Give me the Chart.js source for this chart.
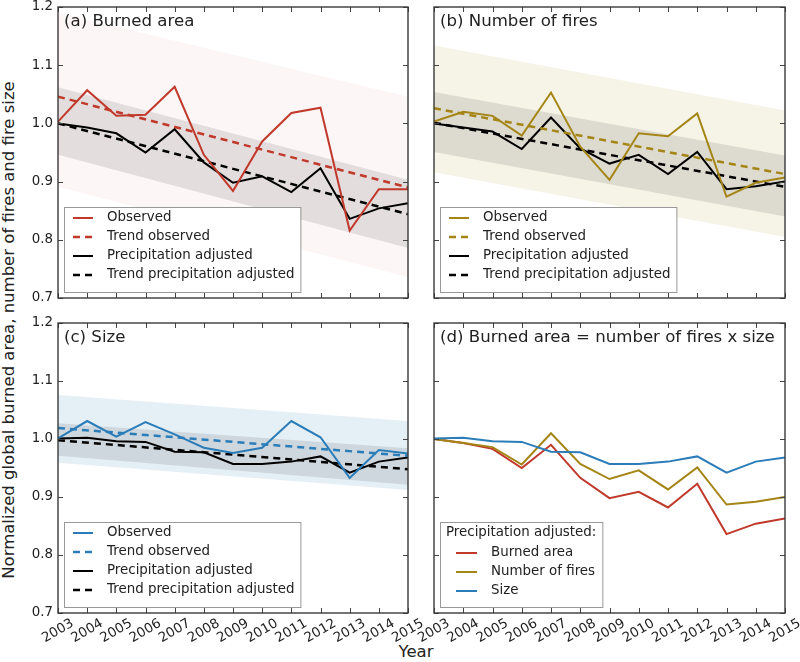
<!DOCTYPE html>
<html>
<head>
<meta charset="utf-8">
<script src="https://cdn.jsdelivr.net/npm/chart.js@4.4.0/dist/chart.umd.min.js"></script>
<style>
  body { margin: 0; background: #fff; }
  #wrap { position: relative; width: 800px; height: 662px; overflow: hidden; font-family: "DejaVu Sans", sans-serif; color: #222; }
  #wrap canvas { position: absolute; left: 0; top: 0; }
  #ylab { position: absolute; left: -291px; top: 320px; width: 600px; height: 20px; line-height: 20px;
          text-align: center; font-size: 16.5px; transform: rotate(-90deg); }
  #xlab { position: absolute; left: 366px; top: 642px; width: 100px; height: 20px; line-height: 20px;
          text-align: center; font-size: 16.5px; }
</style>
</head>
<body>
<div id="wrap">
  <div id="ylab">Normalized global burned area, number of fires and fire size</div>
  <div id="xlab">Year</div>
</div>
<script>
// values
const years = [2003, 2004, 2005, 2006, 2007, 2008, 2009, 2010, 2011, 2012, 2013, 2014, 2015];
const trendYears = [2003, 2015];
const yTicks = [0.7, 0.8, 0.9, 1.0, 1.1, 1.2];

const burnedObserved = [1.003, 1.057, 1.013, 1.015, 1.063, 0.946, 0.884, 0.969, 1.018, 1.027, 0.816, 0.887, 0.887];
const burnedAdjusted = [1.000, 0.993, 0.983, 0.950, 0.990, 0.933, 0.898, 0.909, 0.882, 0.923, 0.836, 0.854, 0.863];
const burnedTrendObserved = [1.046, 0.890];
const burnedTrendAdjusted = [1.000, 0.844];
const burnedBandObsHigh = [1.190, 1.046];
const burnedBandObsLow = [0.891, 0.736];
const burnedBandAdjHigh = [1.062, 0.903];
const burnedBandAdjLow = [0.946, 0.786];

const firesObserved = [1.003, 1.020, 1.013, 0.979, 1.053, 0.960, 0.903, 0.983, 0.978, 1.017, 0.874, 0.898, 0.907];
const firesAdjusted = [1.000, 0.993, 0.986, 0.956, 1.010, 0.957, 0.931, 0.946, 0.913, 0.951, 0.887, 0.892, 0.900];
const firesTrendObserved = [1.026, 0.913];
const firesTrendAdjusted = [1.001, 0.891];
const firesBandObsHigh = [1.134, 1.022];
const firesBandObsLow = [0.916, 0.805];
const firesBandAdjHigh = [1.054, 0.945];
const firesBandAdjLow = [0.951, 0.840];

const sizeObserved = [1.001, 1.031, 1.004, 1.029, 1.008, 0.985, 0.976, 0.985, 1.031, 1.003, 0.933, 0.981, 0.975];
const sizeAdjusted = [1.001, 1.002, 0.996, 0.995, 0.978, 0.977, 0.957, 0.957, 0.961, 0.970, 0.942, 0.961, 0.968];
const sizeTrendObserved = [1.019, 0.971];
const sizeTrendAdjusted = [0.998, 0.948];
const sizeBandObsHigh = [1.076, 1.031];
const sizeBandObsLow = [0.959, 0.912];
const sizeBandAdjHigh = [1.027, 0.984];
const sizeBandAdjLow = [0.971, 0.921];

const RED = 'rgb(192,57,43)';
const OLIVE = 'rgb(164,133,22)';
const BLUE = 'rgb(43,125,185)';
const FONT = '"DejaVu Sans", sans-serif';

function pts(xs, ys) {
  return xs.map((x, i) => ({ x: x, y: ys[i] }));
}

function line(label, xs, ys, color, dashed, order) {
  return {
    label: label,
    data: pts(xs, ys),
    borderColor: color,
    borderWidth: dashed ? 2.5 : 2,
    borderDash: dashed ? [7, 5] : [],
    pointRadius: 0,
    fill: false,
    order: order
  };
}

// two datasets, the first one filled down to the second
function band(high, low, color, order) {
  return [
    { data: pts(trendYears, high), borderWidth: 0, pointRadius: 0, fill: '+1', backgroundColor: color, order: order },
    { data: pts(trendYears, low), borderWidth: 0, pointRadius: 0, fill: false, order: order }
  ];
}

function trendSet(color, obs, adj, tObs, tAdj, bObsHi, bObsLo, bAdjHi, bAdjLo, bandColor) {
  return [
    line('Observed', years, obs, color, false, 0),
    line('Trend observed', trendYears, tObs, color, true, 1),
    line('Precipitation adjusted', years, adj, '#000', false, 2),
    line('Trend precipitation adjusted', trendYears, tAdj, '#000', true, 3),
    ...band(bAdjHi, bAdjLo, 'rgba(0,0,0,0.1)', 10),
    ...band(bObsHi, bObsLo, bandColor, 11)
  ];
}

const boxLegend = {
  id: 'boxLegend',
  afterDatasetsDraw(chart, args, opts) {
    const { ctx, chartArea } = chart;
    const items = chart.data.datasets.filter(d => d.label);
    ctx.save();
    ctx.font = '13.4px ' + FONT;
    let textW = 0;
    items.forEach(d => { textW = Math.max(textW, ctx.measureText(d.label).width); });
    if (opts.title) textW = Math.max(textW, ctx.measureText(opts.title).width - opts.textX + 6);
    const rows = items.length + (opts.title ? 1 : 0);
    const h = 14 + (rows - 1) * 19 + 11 + 3;
    const w = opts.textX + textW + 6;
    const x0 = chartArea.left + 6;
    const y0 = chartArea.bottom - 6 - h;
    ctx.fillStyle = '#fff';
    ctx.fillRect(x0, y0, w, h);
    ctx.strokeStyle = '#999';
    ctx.lineWidth = 1;
    ctx.strokeRect(x0 + 0.5, y0 + 0.5, w, h);
    ctx.textBaseline = 'middle';
    ctx.fillStyle = '#222';
    let y = y0 + 11;
    if (opts.title) {
      ctx.fillText(opts.title, x0 + 6, y);
      y += 20;
    }
    items.forEach(d => {
      ctx.strokeStyle = d.borderColor;
      ctx.lineWidth = d.borderWidth;
      ctx.setLineDash(d.borderDash);
      ctx.beginPath();
      ctx.moveTo(x0 + opts.sampleX, y);
      ctx.lineTo(x0 + opts.sampleX + opts.sampleW, y);
      ctx.stroke();
      ctx.setLineDash([]);
      ctx.fillText(d.label, x0 + opts.textX, y);
      y += 19;
    });
    ctx.restore();
  }
};

const panelFrame = {
  id: 'panelFrame',
  afterDraw(chart, args, opts) {
    const { ctx, chartArea: a, scales } = chart;
    const xs = scales.x, ys = scales.y;
    ctx.save();
    ctx.strokeStyle = '#444';
    ctx.lineWidth = 1;
    ctx.beginPath();
    years.forEach(yr => {
      const px = Math.round(xs.getPixelForValue(yr)) + 0.5;
      ctx.moveTo(px, a.top); ctx.lineTo(px, a.top + 5);
      ctx.moveTo(px, a.bottom); ctx.lineTo(px, a.bottom - 5);
    });
    yTicks.forEach(v => {
      const py = Math.round(ys.getPixelForValue(v)) + 0.5;
      ctx.moveTo(a.left, py); ctx.lineTo(a.left + 5, py);
      ctx.moveTo(a.right, py); ctx.lineTo(a.right - 5, py);
    });
    ctx.stroke();
    ctx.lineWidth = 1.4;
    ctx.strokeStyle = '#3a3a3a';
    ctx.strokeRect(a.left, a.top, a.right - a.left, a.bottom - a.top);

    ctx.fillStyle = '#222';
    ctx.font = '13.4px ' + FONT;
    if (opts.yLabels) {
      ctx.textAlign = 'right';
      ctx.textBaseline = 'middle';
      yTicks.forEach(v => ctx.fillText(v.toFixed(1), a.left - 5, ys.getPixelForValue(v)));
    }
    if (opts.xLabels) {
      ctx.textAlign = 'center';
      ctx.textBaseline = 'middle';
      years.forEach(yr => {
        ctx.save();
        ctx.translate(xs.getPixelForValue(yr), a.bottom + 18);
        ctx.rotate(-Math.PI / 6);
        ctx.fillText(String(yr), 0, 0);
        ctx.restore();
      });
    }
    ctx.font = '16.6px ' + FONT;
    ctx.textAlign = 'left';
    ctx.textBaseline = 'middle';
    ctx.fillText(opts.title, a.left + 6, a.top + 15);
    ctx.restore();
  }
};

const panels = [
  { area: [58, 7, 408, 298], title: '(a) Burned area', yLabels: true, xLabels: false,
    legend: { sampleX: 9, sampleW: 20, textX: 43 },
    datasets: trendSet(RED, burnedObserved, burnedAdjusted, burnedTrendObserved, burnedTrendAdjusted,
      burnedBandObsHigh, burnedBandObsLow, burnedBandAdjHigh, burnedBandAdjLow, 'rgba(192,57,43,0.045)') },
  { area: [434, 7, 785, 298], title: '(b) Number of fires', yLabels: false, xLabels: false,
    legend: { sampleX: 9, sampleW: 20, textX: 43 },
    datasets: trendSet(OLIVE, firesObserved, firesAdjusted, firesTrendObserved, firesTrendAdjusted,
      firesBandObsHigh, firesBandObsLow, firesBandAdjHigh, firesBandAdjLow, 'rgba(164,133,22,0.1)') },
  { area: [58, 323, 408, 613], title: '(c) Size', yLabels: true, xLabels: true,
    legend: { sampleX: 9, sampleW: 20, textX: 43 },
    datasets: trendSet(BLUE, sizeObserved, sizeAdjusted, sizeTrendObserved, sizeTrendAdjusted,
      sizeBandObsHigh, sizeBandObsLow, sizeBandAdjHigh, sizeBandAdjLow, 'rgba(43,125,185,0.12)') },
  { area: [434, 323, 785, 613], title: '(d) Burned area = number of fires x size', yLabels: false, xLabels: true,
    legend: { sampleX: 16, sampleW: 21, textX: 51, title: 'Precipitation adjusted:' },
    datasets: [
      line('Burned area', years, burnedAdjusted, RED, false, 2),
      line('Number of fires', years, firesAdjusted, OLIVE, false, 1),
      line('Size', years, sizeAdjusted, BLUE, false, 0)
    ] }
];

const wrap = document.getElementById('wrap');
panels.forEach(p => {
  const canvas = document.createElement('canvas');
  canvas.width = 800;
  canvas.height = 662;
  wrap.appendChild(canvas);
  new Chart(canvas.getContext('2d'), {
    type: 'line',
    data: { datasets: p.datasets },
    options: {
      responsive: false,
      animation: false,
      devicePixelRatio: 1,
      layout: { padding: { left: p.area[0], top: p.area[1], right: 800 - p.area[2], bottom: 662 - p.area[3] } },
      scales: {
        x: { type: 'linear', min: 2003, max: 2015, display: false },
        y: { type: 'linear', min: 0.7, max: 1.2, display: false }
      },
      elements: { line: { tension: 0 } },
      plugins: {
        legend: { display: false },
        tooltip: { enabled: false },
        boxLegend: p.legend,
        panelFrame: { title: p.title, yLabels: p.yLabels, xLabels: p.xLabels }
      }
    },
    plugins: [boxLegend, panelFrame]
  });
});
</script>
</body>
</html>
